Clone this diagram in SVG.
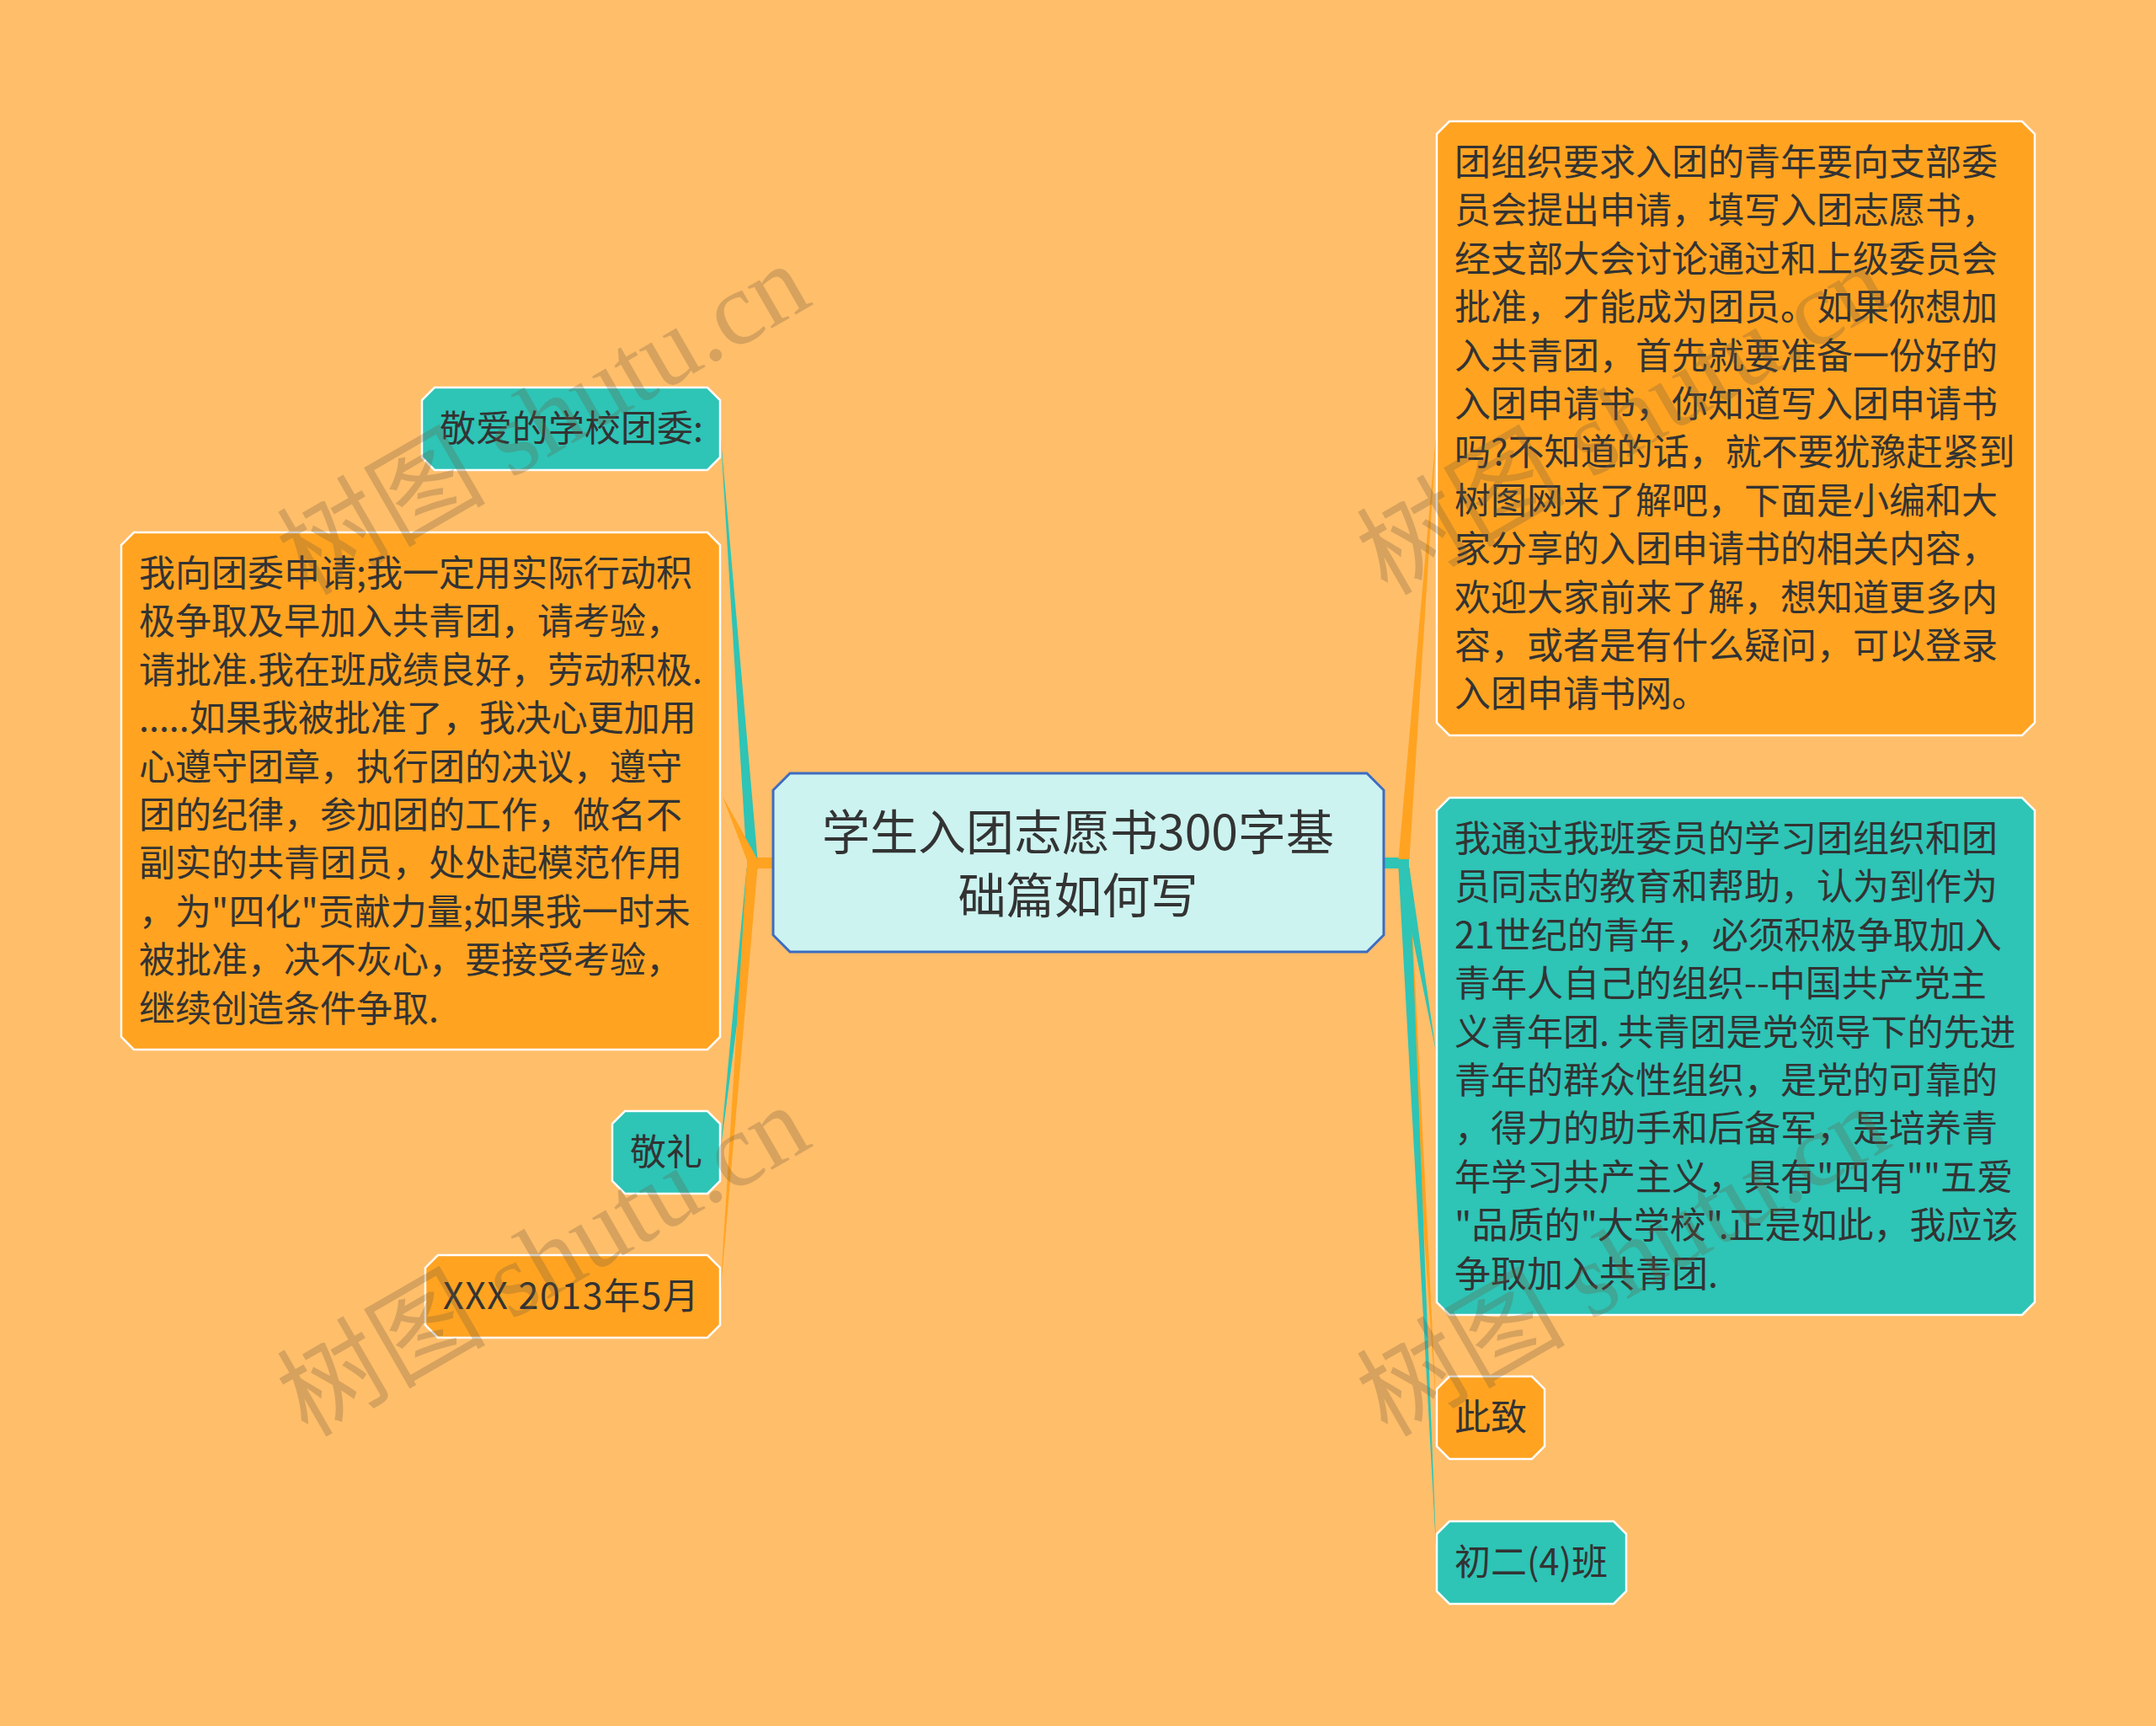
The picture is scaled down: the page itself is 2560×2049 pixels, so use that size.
<svg xmlns="http://www.w3.org/2000/svg" width="2560" height="2049" viewBox="0 0 2560 2049">
<style>
.txt{font-family:"Noto Sans CJK SC","Noto Sans",sans-serif;font-size:43px;fill:#333333}
.ctr{font-family:"Noto Sans CJK SC","Noto Sans",sans-serif;font-size:57px;fill:#333333;text-anchor:middle}
.org{fill:#FFA321;stroke:#ffffff;stroke-width:2.5}
.teal{fill:#2EC4B6;stroke:#ffffff;stroke-width:2.5}
.main{fill:#CCF3F0;stroke:#3D6CC0;stroke-width:3}
.co{fill:#FFA321}
.ct{fill:#2EC4B6}
.wm{font-family:"Liberation Serif","Noto Sans CJK SC",serif;font-size:124px;fill:#6b5a40;opacity:0.27}
</style>
<rect x="0" y="0" width="2560" height="2049" fill="#FFBE6A"/>
<g id="connectors">
<rect class="ct" x="1640" y="1018" width="33" height="13"/>
<path class="co" d="M1660.5,1020 L1673.5,1020 L1706,509 L1706,507 Z"/>
<path class="co" d="M1660.5,1030 L1673.5,1030 L1706,1684 L1706,1682 Z"/>
<path class="ct" d="M1660.5,1030 L1673.5,1030 L1706,1255 L1706,1253 Z"/>
<path class="ct" d="M1660.5,1030 L1673.5,1030 L1706,1856 L1706,1854 Z"/>
<rect class="co" x="887" y="1018" width="33" height="13"/>
<path class="ct" d="M886.5,1020 L899.5,1020 L855,510 L855,508 Z"/>
<path class="co" d="M886.5,1020 L899.5,1020 L855,940 L855,938 Z"/>
<path class="ct" d="M886.5,1030 L899.5,1030 L855,1369 L855,1367 Z"/>
<path class="co" d="M886.5,1030 L899.5,1030 L855,1540 L855,1538 Z"/>
</g>
<g id="center">
<polygon class="main" points="938,918 1623,918 1643,938 1643,1110 1623,1130 938,1130 918,1110 918,938"/>
<text class="ctr" x="1280" y="1009">学生入团志愿书300字基</text>
<text class="ctr" x="1280" y="1084">础篇如何写</text>
</g>
<g id="n-jingai">
<polygon class="teal" points="516,460 840,460 855,475 855,543 840,558 516,558 501,543 501,475"/>
<text class="txt" x="522" y="524">敬爱的学校团委:</text>
</g>
<g id="n-left">
<polygon class="org" points="159,632 840,632 855,647 855,1231 840,1246 159,1246 144,1231 144,647"/>
<text class="txt" x="165" y="696">
<tspan x="165" y="696">我向团委申请;我一定用实际行动积</tspan>
<tspan x="165" dy="57.4">极争取及早加入共青团，请考验，</tspan>
<tspan x="165" dy="57.4">请批准.我在班成绩良好，劳动积极.</tspan>
<tspan x="165" dy="57.4">.....如果我被批准了，我决心更加用</tspan>
<tspan x="165" dy="57.4">心遵守团章，执行团的决议，遵守</tspan>
<tspan x="165" dy="57.4">团的纪律，参加团的工作，做名不</tspan>
<tspan x="165" dy="57.4">副实的共青团员，处处起模范作用</tspan>
<tspan x="165" dy="57.4">，为"四化"贡献力量;如果我一时未</tspan>
<tspan x="165" dy="57.4">被批准，决不灰心，要接受考验，</tspan>
<tspan x="165" dy="57.4">继续创造条件争取.</tspan>
</text>
</g>
<g id="n-jingli">
<polygon class="teal" points="742,1319 840,1319 855,1334 855,1402 840,1417 742,1417 727,1402 727,1334"/>
<text class="txt" x="748" y="1383">敬礼</text>
</g>
<g id="n-xxx">
<polygon class="org" points="520,1490 840,1490 855,1505 855,1573 840,1588 520,1588 505,1573 505,1505"/>
<text class="txt" x="526" y="1554" letter-spacing="1.5">XXX 2013年5月</text>
</g>
<g id="n-right-top">
<polygon class="org" points="1721,144 2401,144 2416,159 2416,858 2401,873 1721,873 1706,858 1706,159"/>
<text class="txt" x="1727" y="208">
<tspan x="1727" y="208">团组织要求入团的青年要向支部委</tspan>
<tspan x="1727" dy="57.4">员会提出申请，填写入团志愿书，</tspan>
<tspan x="1727" dy="57.4">经支部大会讨论通过和上级委员会</tspan>
<tspan x="1727" dy="57.4">批准，才能成为团员。如果你想加</tspan>
<tspan x="1727" dy="57.4">入共青团，首先就要准备一份好的</tspan>
<tspan x="1727" dy="57.4">入团申请书，你知道写入团申请书</tspan>
<tspan x="1727" dy="57.4">吗?不知道的话，就不要犹豫赶紧到</tspan>
<tspan x="1727" dy="57.4">树图网来了解吧，下面是小编和大</tspan>
<tspan x="1727" dy="57.4">家分享的入团申请书的相关内容，</tspan>
<tspan x="1727" dy="57.4">欢迎大家前来了解，想知道更多内</tspan>
<tspan x="1727" dy="57.4">容，或者是有什么疑问，可以登录</tspan>
<tspan x="1727" dy="57.4">入团申请书网。</tspan>
</text>
</g>
<g id="n-right-teal">
<polygon class="teal" points="1721,947 2401,947 2416,962 2416,1546 2401,1561 1721,1561 1706,1546 1706,962"/>
<text class="txt" x="1727" y="1011">
<tspan x="1727" y="1011">我通过我班委员的学习团组织和团</tspan>
<tspan x="1727" dy="57.4">员同志的教育和帮助，认为到作为</tspan>
<tspan x="1727" dy="57.4">21世纪的青年，必须积极争取加入</tspan>
<tspan x="1727" dy="57.4">青年人自己的组织--中国共产党主</tspan>
<tspan x="1727" dy="57.4">义青年团. 共青团是党领导下的先进</tspan>
<tspan x="1727" dy="57.4">青年的群众性组织，是党的可靠的</tspan>
<tspan x="1727" dy="57.4">，得力的助手和后备军，是培养青</tspan>
<tspan x="1727" dy="57.4">年学习共产主义，具有"四有""五爱</tspan>
<tspan x="1727" dy="57.4">"品质的"大学校".正是如此，我应该</tspan>
<tspan x="1727" dy="57.4">争取加入共青团.</tspan>
</text>
</g>
<g id="n-cizhi">
<polygon class="org" points="1721,1634 1819,1634 1834,1649 1834,1717 1819,1732 1721,1732 1706,1717 1706,1649"/>
<text class="txt" x="1727" y="1698">此致</text>
</g>
<g id="n-class">
<polygon class="teal" points="1721,1806 1916,1806 1931,1821 1931,1889 1916,1904 1721,1904 1706,1889 1706,1821"/>
<text class="txt" x="1727" y="1870">初二(4)班</text>
</g>
<g id="watermarks">
<text class="wm" x="365" y="708" transform="rotate(-30 365 708)">树图 shutu.cn</text>
<text class="wm" x="365" y="1707" transform="rotate(-30 365 1707)">树图 shutu.cn</text>
<text class="wm" x="1647" y="708" transform="rotate(-30 1647 708)">树图 shutu.cn</text>
<text class="wm" x="1647" y="1707" transform="rotate(-30 1647 1707)">树图 shutu.cn</text>
</g>
</svg>
